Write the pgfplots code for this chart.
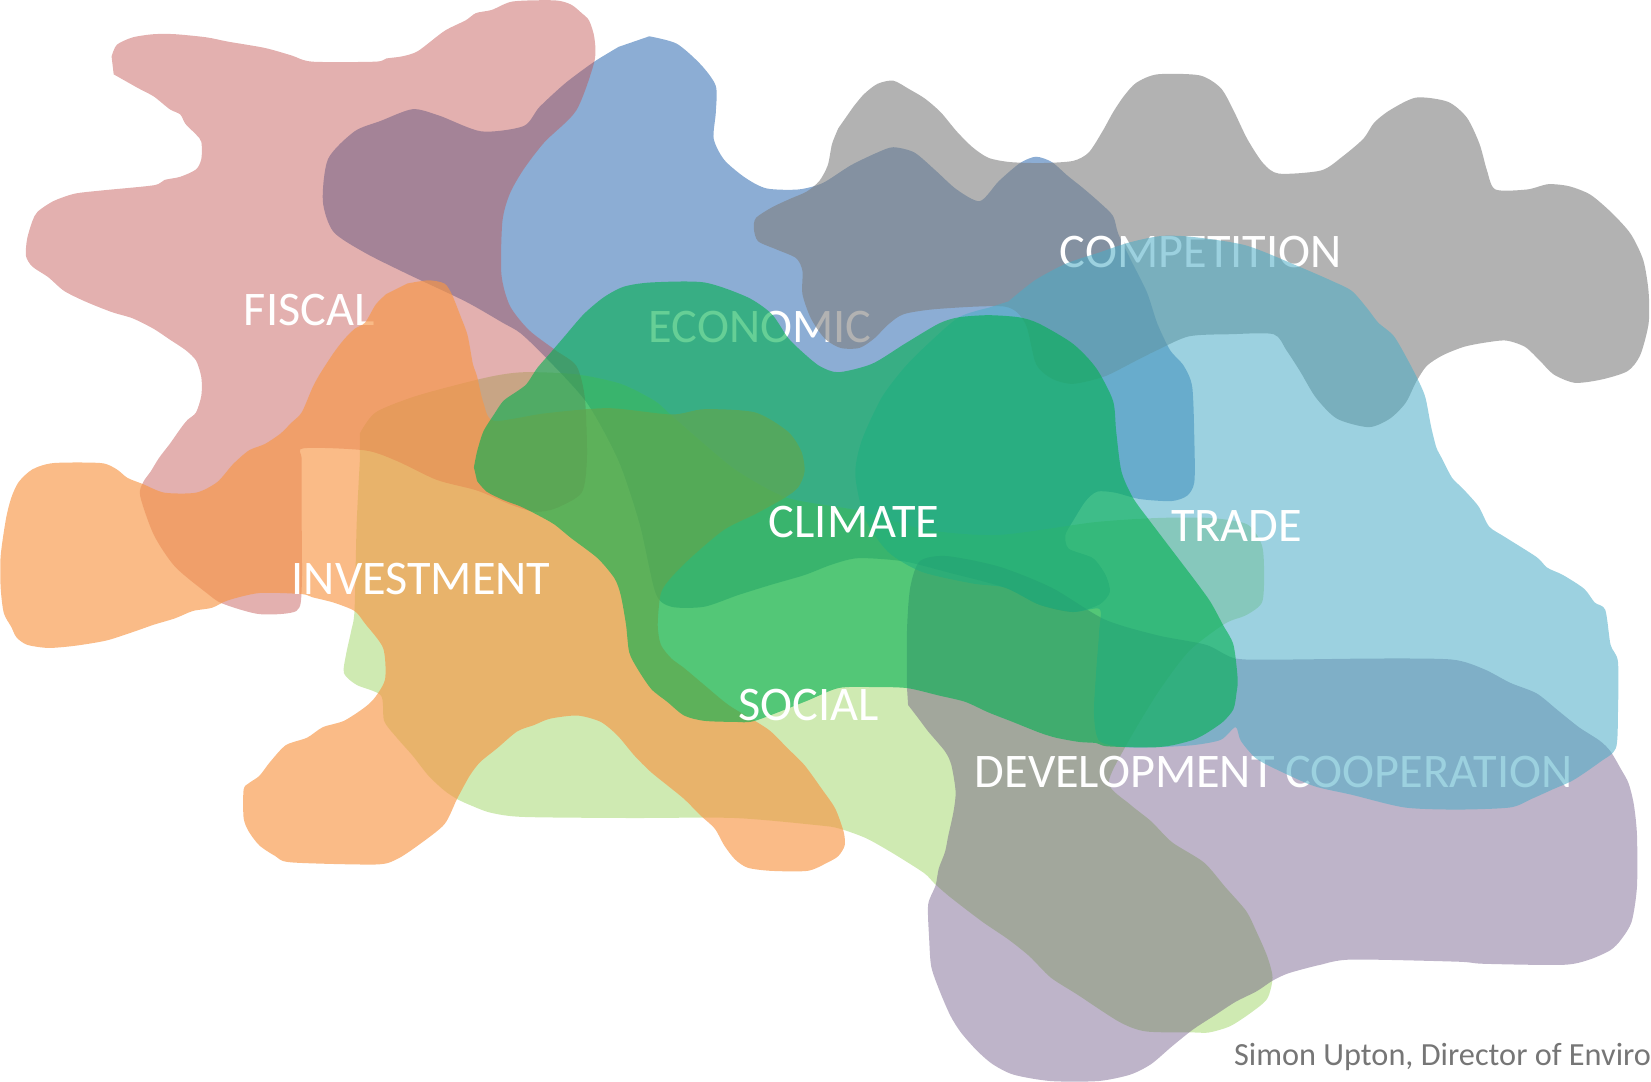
\documentclass[border=0pt]{standalone}
\usepackage{pgfplots}
\pgfplotsset{compat=1.18}
\usepackage{fontspec}
\setmainfont{Carlito}

\definecolor{econ}{HTML}{4F81BD}
\definecolor{social}{HTML}{92D050}
\definecolor{fiscal}{HTML}{C0504D}
\definecolor{invest}{HTML}{F79646}
\definecolor{devco}{HTML}{644C7E}
\definecolor{compet}{HTML}{7F7F7F}
\definecolor{trade}{HTML}{4BACC6}
\definecolor{climate}{HTML}{00B050}
\definecolor{credit}{RGB}{118,118,118}

\tikzset{
    blob/.style={draw=none, mark=none, smooth, tension=0.45},
    lbl/.style={anchor=base, text=white, font=\fontsize{13}{15}\selectfont},
}

\begin{document}
\begin{tikzpicture}
\begin{axis}[
    width=15.68cm, height=10.30cm, scale only axis,
    xmin=0, xmax=1568, ymin=0, ymax=1030,
    y dir=reverse, hide axis,
]

% economic (blue)
\addplot[blob, fill=econ, fill opacity=0.65] coordinates {
(619,38)(645,45)(668,65)(682,85)(682,110)(680,135)(690,155)(710,172)(730,182)(760,183)(783,177)(810,160)(835,148)(850,143)(870,148)(890,165)(910,183)(932,194)(950,175)(970,158)(985,152)(1000,157)(1015,170)(1030,182)(1045,195)(1058,208)(1063,225)(1075,250)(1090,280)(1100,310)(1112,335)(1125,350)(1133,370)(1135,420)(1135,460)(1128,473)(1113,478)(1083,476)(1060,470)(1043,469)(1032,478)(1020,497)(1013,510)(1016,523)(1039,532)(1051,548)(1055,564)(1045,576)(1020,583)(988,576)(956,560)(900,545)(860,535)(817,532)(792,538)(766,548)(735,557)(703,567)(671,578)(640,578)(625,565)(610,500)(590,440)(560,385)(520,341)(497,319)(480,309)(445,289)(390,263)(350,243)(320,223)(310,194)(315,154)(340,128)(365,118)(395,107)(420,113)(460,128)(500,123)(515,105)(540,82)(567,62)(590,48)
};
\node[lbl] at (axis cs:724,328) {ECONOMIC};

% social (light green)
\addplot[blob, fill=social, fill opacity=0.44] coordinates {
(345,414)(360,394)(400,378)(465,361)(500,356)(550,358)(592,367)(624,383)(639,396)(671,424)(703,450)(750,475)(817,487)(880,505)(950,510)(1040,498)(1100,494)(1150,494)(1185,500)(1199,520)(1201,548)(1199,574)(1184,586)(1164,594)(1130,620)(1100,660)(1070,710)(1054,745)(1074,765)(1094,781)(1114,801)(1144,820)(1164,843)(1184,866)(1194,886)(1204,909)(1209,929)(1204,949)(1189,962)(1169,975)(1149,981)(1134,981)(1089,980)(1064,971)(1024,945)(999,929)(979,909)(959,893)(934,876)(904,853)(889,840)(879,830)(849,811)(824,797)(799,788)(780,785)(700,778)(600,778)(500,777)(469,773)(450,766)(437,760)(425,752)(410,738)(395,719)(380,702)(368,686)(365,662)(342,652)(330,641)(332,623)(337,600)(340,581)(342,500)(345,440)
};

% fiscal (red)
\addplot[blob, fill=fiscal, fill opacity=0.45] coordinates {
(110,57)(115,46)(130,39)(150,36)(170,36)(200,39)(220,43)(255,49)(280,56)(300,62)(360,62)(370,59)(385,57)(400,52)(425,33)(445,23)(455,16)(470,13)(490,5)(530,4)(545,8)(555,16)(562,23)(567,39)(567,62)(550,108)(520,138)(500,164)(487,187)(480,213)(479,263)(487,293)(505,316)(530,335)(550,350)(558,380)(560,437)(555,470)(530,485)(510,488)(487,481)(456,468)(418,458)(380,440)(350,430)(292,428)(290,440)(290,500)(290,560)(285,582)(250,585)(215,575)(200,565)(170,540)(150,510)(137,473)(140,460)(147,450)(155,437)(165,424)(172,414)(177,407)(182,401)(190,394)(195,378)(195,361)(190,345)(180,335)(165,325)(150,315)(130,305)(110,299)(85,289)(65,279)(50,266)(35,256)(29,246)(30,230)(35,213)(40,204)(55,194)(75,187)(100,184)(150,179)(160,174)(175,171)(190,164)(195,154)(195,138)(190,131)(180,121)(175,112)(165,107)(150,95)(135,87)(112,74)
};
\node[lbl] at (axis cs:297,312) {FISCAL};

% investment (orange)
\addplot[blob, fill=invest, fill opacity=0.65] coordinates {
(390,272)(410,269)(425,272)(432,282)(440,302)(447,321)(452,348)(456,360)(462,385)(472,402)(520,395)(580,390)(640,396)(671,391)(719,394)(750,412)(763,431)(766,450)(760,465)(747,475)(720,490)(690,505)(660,530)(640,550)(630,565)(627,595)(630,614)(640,627)(652,636)(671,652)(694,671)(719,686)(734,696)(750,712)(766,728)(782,750)(795,769)(803,791)(804,804)(798,814)(788,820)(769,828)(734,828)(712,825)(700,817)(690,804)(681,788)(668,776)(652,760)(636,747)(620,734)(605,719)(589,700)(573,687)(551,681)(525,684)(510,690)(494,696)(475,712)(459,725)(449,738)(437,760)(425,784)(400,804)(380,817)(360,822)(280,820)(265,814)(250,804)(240,791)(235,778)(235,751)(240,745)(250,738)(260,725)(275,709)(295,702)(310,692)(330,686)(350,673)(360,663)(369,646)(367,617)(350,594)(340,582)(320,574)(300,569)(290,566)(250,565)(220,572)(205,579)(187,582)(170,589)(150,595)(130,602)(105,610)(75,615)(50,617)(30,614)(20,607)(15,597)(8,584)(5,560)(5,530)(10,495)(15,475)(22,460)(35,448)(55,442)(100,442)(115,448)(125,456)(140,462)(160,470)(190,470)(210,460)(225,443)(240,430)(255,424)(270,414)(280,404)(290,394)(300,371)(307,358)(320,338)(330,325)(340,315)(350,309)(360,292)(370,282)
};

% development cooperation (purple)
\addplot[blob, fill=devco, fill opacity=0.42] coordinates {
(863,655)(863,600)(866,560)(875,535)(900,530)(950,540)(1000,560)(1050,590)(1100,605)(1146,614)(1174,627)(1219,628)(1309,627)(1379,628)(1409,637)(1434,650)(1459,660)(1479,676)(1499,692)(1519,705)(1529,715)(1539,732)(1546,745)(1551,765)(1554,794)(1554,843)(1549,876)(1539,893)(1529,903)(1509,912)(1484,917)(1409,916)(1384,914)(1284,912)(1254,917)(1224,925)(1209,932)(1194,942)(1174,952)(1154,965)(1134,978)(1114,994)(1094,1011)(1074,1021)(1044,1027)(999,1027)(964,1021)(944,1011)(929,998)(914,981)(904,965)(894,942)(886,919)(884,893)(883,860)(890,842)(893,826)(899,810)(902,795)(907,772)(909,753)(905,728)(899,715)(883,696)(874,684)(864,671)
};
\node[lbl] at (axis cs:1210,749) {DEVELOPMENT COOPERATION};

% competition (grey)
\addplot[blob, fill=compet, fill opacity=0.6] coordinates {
(812,105)(822,93)(835,83)(850,80)(865,88)(880,97)(895,110)(910,128)(925,143)(940,153)(960,157)(990,158)(1020,156)(1035,148)(1048,128)(1058,110)(1068,95)(1080,82)(1100,74)(1140,75)(1160,87)(1172,108)(1185,135)(1200,158)(1215,168)(1255,165)(1275,152)(1295,135)(1305,120)(1320,108)(1345,96)(1375,100)(1393,115)(1405,140)(1412,165)(1420,183)(1450,183)(1470,178)(1490,180)(1510,188)(1530,205)(1548,225)(1560,250)(1565,280)(1565,310)(1557,340)(1545,355)(1520,363)(1495,366)(1475,358)(1462,345)(1448,332)(1430,326)(1410,328)(1390,332)(1370,340)(1355,350)(1345,365)(1335,385)(1320,400)(1300,408)(1270,400)(1250,380)(1235,355)(1222,335)(1210,320)(1170,320)(1130,322)(1100,335)(1080,345)(1050,360)(1020,367)(1000,362)(985,348)(975,310)(956,294)(893,296)(860,301)(845,311)(832,324)(818,333)(800,333)(785,324)(772,305)(764,282)(764,260)(758,248)(740,240)(722,232)(718,220)(720,210)(735,200)(752,192)(768,185)(780,175)(788,160)(792,140)(798,125)
};
\node[lbl] at (axis cs:1141,257) {COMPETITION};

% trade (aqua)
\addplot[blob, fill=trade, fill opacity=0.55] coordinates {
(959,289)(984,269)(1014,253)(1044,243)(1074,233)(1104,227)(1134,228)(1184,236)(1234,256)(1264,269)(1284,279)(1299,296)(1309,309)(1324,322)(1339,348)(1349,368)(1354,381)(1359,407)(1364,427)(1369,437)(1379,456)(1389,466)(1404,483)(1414,502)(1429,512)(1459,531)(1469,541)(1484,548)(1504,561)(1514,574)(1524,581)(1529,614)(1536,630)(1536,679)(1534,712)(1519,725)(1494,742)(1474,751)(1454,760)(1434,768)(1384,770)(1334,768)(1284,756)(1249,748)(1219,735)(1194,722)(1179,705)(1174,692)(1160,704)(1134,709)(1099,711)(1070,711)(1045,705)(1040,680)(1042,640)(1045,600)(1045,580)(1020,583)(988,576)(956,560)(925,556)(877,545)(845,526)(823,494)(814,453)(820,421)(839,380)(861,351)(883,329)(912,304)(940,295)
};

% climate (green)
\addplot[blob, fill=climate, fill opacity=0.6] coordinates {
(453,446)(456,431)(462,412)(472,396)(481,383)(494,374)(503,367)(513,352)(526,337)(538,323)(557,301)(576,285)(595,275)(621,271)(671,271)(712,285)(735,301)(750,323)(763,336)(780,350)(798,356)(830,348)(861,329)(893,310)(912,304)(940,302)(969,304)(988,310)(1020,329)(1042,352)(1058,383)(1061,412)(1066,450)(1077,475)(1093,497)(1115,526)(1134,551)(1150,573)(1162,595)(1172,614)(1176,646)(1175,659)(1172,675)(1162,687)(1146,698)(1134,704)(1115,709)(1099,711)(1077,711)(1051,710)(1042,707)(1026,706)(1004,702)(988,697)(963,687)(940,678)(918,668)(893,662)(863,655)(830,654)(798,655)(766,668)(719,686)(700,687)(671,686)(652,681)(636,668)(621,656)(608,637)(600,621)(597,595)(592,567)(586,551)(570,532)(545,513)(529,500)(513,491)(497,483)(481,477)(465,469)(456,459)
};

\node[lbl] at (axis cs:770,686) {SOCIAL};
\node[lbl] at (axis cs:813,512) {CLIMATE};
\node[lbl] at (axis cs:1175,516) {TRADE};
\node[lbl] at (axis cs:403,566) {INVESTMENT};
\node[anchor=base east, text=credit, font=\fontsize{8.7}{10}\selectfont, inner sep=0pt] at (axis cs:1568,1012) {Simon Upton, Director of Enviro};

\end{axis}
\end{tikzpicture}
\end{document}
